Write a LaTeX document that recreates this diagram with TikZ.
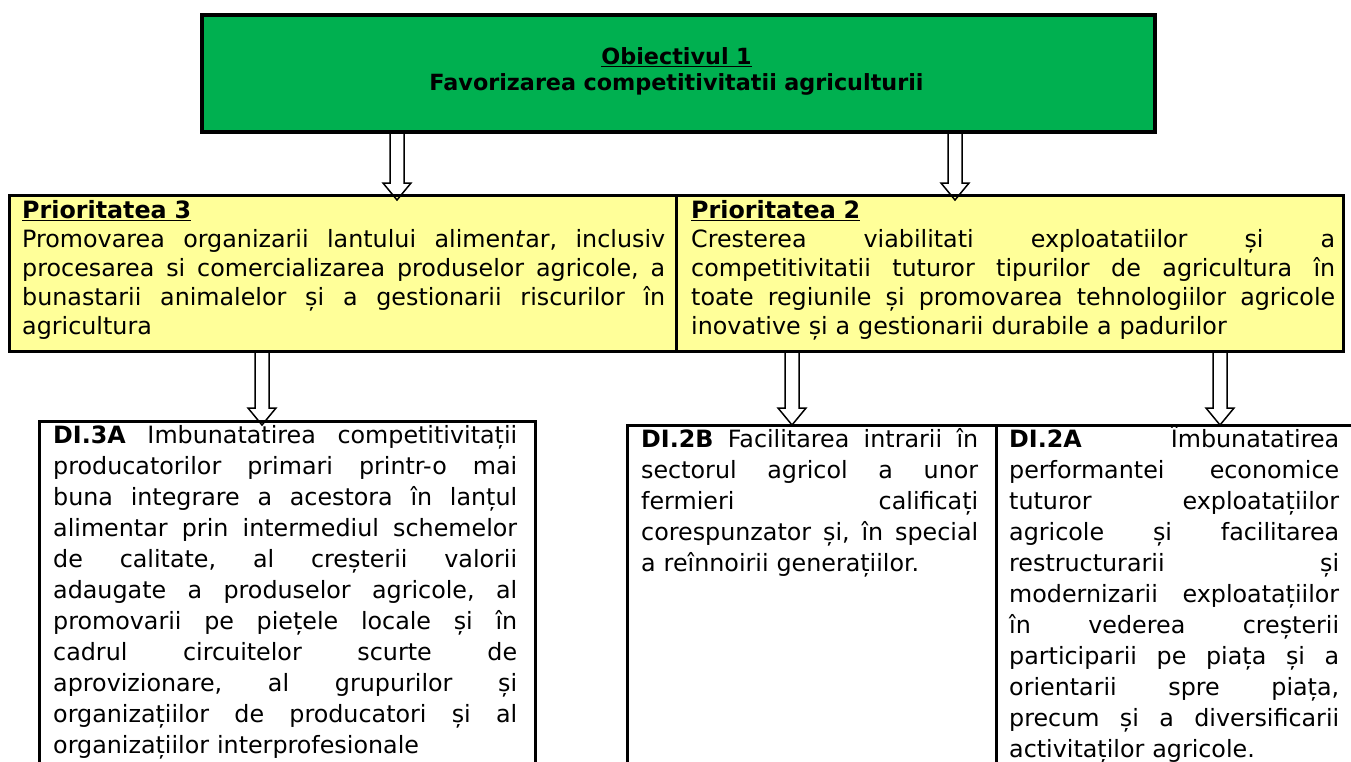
\documentclass[tikz,border=0pt]{standalone}
\usepackage{fontspec}
\setmainfont{DejaVu Sans}
\usetikzlibrary{positioning,calc}
\setlength{\parindent}{0pt}
\frenchspacing

\definecolor{objgreen}{RGB}{0,176,80}
\definecolor{prioyellow}{RGB}{255,255,153}

\newlength{\lw}
\newcommand{\fl}[1]{\leavevmode\hbox to\lw{\spaceskip=0.32em plus 1fil\relax #1}}
\newcommand{\blockarrow}[2]{%
  \draw[blockarr] let \p1=(#1), \p2=(#2) in
    (\x2-7pt,\y1) -- (\x2-7pt,\y2+17pt) -- (\x2-14pt,\y2+17pt) -- (\x2,\y2)
    -- (\x2+14pt,\y2+17pt) -- (\x2+7pt,\y2+17pt) -- (\x2+7pt,\y1);}

\tikzset{
  objbox/.style={draw, line width=4pt, fill=objgreen, anchor=north west, inner sep=0pt},
  priobox/.style={draw, line width=3pt, fill=prioyellow, anchor=north west, inner sep=0pt},
  dibox/.style={draw, line width=2.5pt, anchor=north west, inner sep=0pt},
  txt/.style={anchor=base west, inner sep=0pt, text width=#1,
    execute at begin node={\setlength{\lw}{#1}},
    font=\fontsize{23.8pt}{29.2pt}\selectfont},
  ditxt/.style={txt=#1, font=\fontsize{23.8pt}{31pt}\selectfont},
  blockarr/.style={line width=1.5pt, line join=miter}
}

\begin{document}
\begin{tikzpicture}[x=1pt,y=-1pt]
    \path[use as bounding box] (0,0) rectangle (1351,761);
    \clip (0,0) rectangle (1351,761);
    \fill[white] (0,0) rectangle (1351,761);

    \node[objbox, minimum width=953pt, minimum height=117pt] (obj) at (200,13) {};
    \node[anchor=base, inner sep=0pt, text width=700pt, align=center,
          font=\bfseries\fontsize{22.3pt}{26pt}\selectfont] (objtxt) at (676.5,64)
        {\underline{Obiectivul 1}\\Favorizarea competitivitatii agriculturii};

    \node[priobox, minimum width=667pt, minimum height=156pt] (p3) at (8,194) {};
    \node[priobox, minimum width=667pt, minimum height=156pt] (p2) at (675,194) {};
    \node[txt=643pt] (p3txt) at (22,218) {%
        \underline{\textbf{Prioritatea 3}}\\
        \fl{Promovarea organizarii lantului alimen\textit{t}ar, inclusiv}\\
        \fl{procesarea si comercializarea produselor agricole, a}\\
        \fl{bunastarii animalelor și a gestionarii riscurilor în}\\
        agricultura};
    \node[txt=644pt] (p2txt) at (691,218) {%
        \underline{\textbf{Prioritatea 2}}\\
        \fl{Cresterea viabilitati exploatatiilor și a}\\
        \fl{competitivitatii tuturor tipurilor de agricultura în}\\
        \fl{toate regiunile și promovarea tehnologiilor agricole}\\
        inovative și a gestionarii durabile a padurilor};

    \node[dibox, minimum width=496pt, minimum height=400pt] (di3a) at (38,420) {};
    \node[dibox, minimum width=369pt, minimum height=400pt] (di2b) at (626,424) {};
    \node[dibox, minimum width=400pt, minimum height=400pt] (di2a) at (995,424) {};
    \node[ditxt=464pt] (di3atxt) at (53,443) {%
        \fl{\textbf{DI.3A} Imbunatatirea competitivitații}\\
        \fl{producatorilor primari printr-o mai}\\
        \fl{buna integrare a acestora în lanțul}\\
        \fl{alimentar prin intermediul schemelor}\\
        \fl{de calitate, al creșterii valorii}\\
        \fl{adaugate a produselor agricole, al}\\
        \fl{promovarii pe piețele locale și în}\\
        \fl{cadrul circuitelor scurte de}\\
        \fl{aprovizionare, al grupurilor și}\\
        \fl{organizațiilor de producatori și al}\\
        organizațiilor interprofesionale};
    \node[ditxt=337pt] (di2btxt) at (641,447) {%
        \fl{\textbf{DI.2B} Facilitarea intrarii în}\\
        \fl{sectorul agricol a unor}\\
        \fl{fermieri calificați}\\
        \fl{corespunzator și, în special}\\
        a reînnoirii generațiilor.};
    \node[ditxt=330pt] (di2atxt) at (1009,447) {%
        \fl{\textbf{DI.2A} Îmbunatatirea}\\
        \fl{performantei economice}\\
        \fl{tuturor exploatațiilor}\\
        \fl{agricole și facilitarea}\\
        \fl{restructurarii și}\\
        \fl{modernizarii exploatațiilor}\\
        \fl{în vederea creșterii}\\
        \fl{participarii pe piața și a}\\
        \fl{orientarii spre piața,}\\
        \fl{precum și a diversificarii}\\
        activitaților agricole.};

    \coordinate (tip3) at (397,200);
    \coordinate (tip2) at (955,200);
    \coordinate (tip3a) at (262,425);
    \coordinate (tip2b) at (792,425);
    \coordinate (tip2a) at (1220,425);
    \blockarrow{obj.south -| tip3}{tip3}
    \blockarrow{obj.south -| tip2}{tip2}
    \blockarrow{p3.south -| tip3a}{tip3a}
    \blockarrow{p2.south -| tip2b}{tip2b}
    \blockarrow{p2.south -| tip2a}{tip2a}
\end{tikzpicture}
\end{document}
